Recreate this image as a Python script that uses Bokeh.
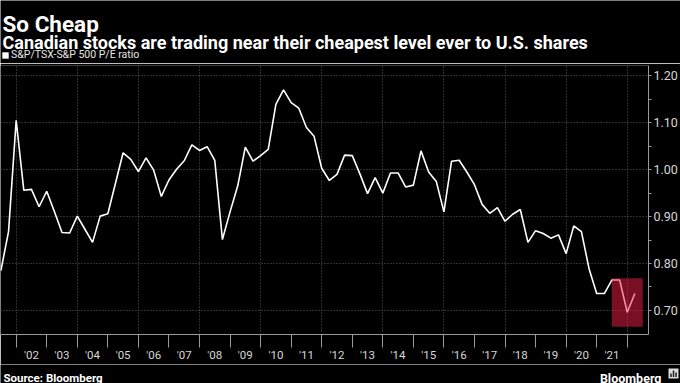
from bokeh.plotting import figure
from bokeh.layouts import column
from bokeh.models import (FixedTicker, PrintfTickFormatter, Label, BoxAnnotation,
                          Legend, LegendItem, Range1d, ColumnDataSource)
from bokeh.embed import file_html
from bokeh.resources import INLINE

# ---------------- data ----------------
FIRST_QUARTER = 2001.5   # first observation (decimal year)
QUARTER = 0.25
RATIO = [
    0.785, 0.868,
    1.105, 0.956, 0.958, 0.921,
    0.954, 0.911, 0.866, 0.865,
    0.901, 0.873, 0.845, 0.901,
    0.906, 0.971, 1.036, 1.022,
    0.996, 1.025, 0.999, 0.943,
    0.978, 1.001, 1.019, 1.053,
    1.041, 1.049, 1.020, 0.851,
    0.910, 0.965, 1.048, 1.018,
    1.030, 1.043, 1.139, 1.170,
    1.143, 1.131, 1.090, 1.071,
    1.003, 0.977, 0.990, 1.031,
    1.030, 0.991, 0.949, 0.983,
    0.950, 0.993, 0.993, 0.963,
    0.967, 1.040, 0.995, 0.975,
    0.910, 1.018, 1.020, 0.995,
    0.968, 0.926, 0.907, 0.919,
    0.890, 0.905, 0.915, 0.845,
    0.870, 0.864, 0.854, 0.861,
    0.821, 0.880, 0.868, 0.789,
    0.736, 0.736, 0.765, 0.765,
    0.696, 0.736,
]
LABEL_YEARS = list(range(2002, 2022))
YEAR_LABELS = ["'02", "'03", "'04", "'05", "'06", "'07", "'08", "'09", "'10", "'11",
               "'12", "'13", "'14", "'15", "'16", "'17", "'18", "'19", "'20", "'21"]
YEAR_BOUNDS = list(range(2002, 2023))
GRID_YEARS = list(range(2002, 2023, 2))
Y_TICKS = [0.70, 0.80, 0.90, 1.00, 1.10, 1.20]
Y_MINOR = [0.75, 0.85, 0.95, 1.05, 1.15]
HIGHLIGHT_START, HIGHLIGHT_END = 2021.5, 2022.5
HIGHLIGHT_LOW, HIGHLIGHT_HIGH = 0.666, 0.768

TITLE = "So Cheap"
SUBTITLE = "Canadian stocks are trading near their cheapest level ever to U.S. shares"
SERIES = "S&P/TSX-S&P 500 P/E ratio"
SOURCE = "Source: Bloomberg"
BRAND = "Bloomberg"

x = [FIRST_QUARTER + QUARTER * i for i in range(len(RATIO))]
src = ColumnDataSource(dict(x=x, y=RATIO))

FONT = "Roboto"
W = 680
HEAD_H, MAIN_H, FOOT_H = 63, 301, 19
BG = "black"
NAN = float("nan")


def blank(h):
    f = figure(width=W, height=h, output_backend="svg", toolbar_location=None,
               x_range=Range1d(0, W), y_range=Range1d(h, 0),
               x_axis_type=None, y_axis_type=None,
               background_fill_color=BG, border_fill_color=BG,
               outline_line_color=None, min_border=0, frame_align=False)
    f.xgrid.visible = False
    f.ygrid.visible = False
    return f


def text(f, s, x, y, size, bold=False, align="left", color="white"):
    f.add_layout(Label(x=x, y=y, text=s, text_font=FONT, text_font_size=size,
                       text_font_style="bold" if bold else "normal",
                       text_color=color, text_align=align,
                       text_baseline="alphabetic"))


# ---------------- header ----------------
head = blank(HEAD_H)
text(head, TITLE, 2, 23, "22.5px", bold=True)
text(head, SUBTITLE, 2, 42, "18px", bold=True)
sw = head.quad(left=[NAN], right=[NAN], top=[NAN], bottom=[NAN],
               fill_color="white", line_color=None)
head.add_layout(Legend(items=[LegendItem(label=SERIES, renderers=[sw])],
                       location=(1, 2), padding=0, margin=0, spacing=0,
                       glyph_width=8, glyph_height=8, label_standoff=2, label_height=11,
                       label_text_font=FONT, label_text_font_size="10.5px",
                       label_text_color="#e6e6e6", background_fill_alpha=0,
                       border_line_color=None))

# ---------------- main chart ----------------
p = figure(width=W, height=MAIN_H, output_backend="svg", toolbar_location=None,
           x_range=Range1d(2001.487, 2022.696), y_range=Range1d(0.6487, 1.222),
           y_axis_location="right", frame_align=False,
           background_fill_color=BG, border_fill_color=BG,
           outline_line_color=None,
           min_border_left=0, min_border_right=31,
           min_border_top=2, min_border_bottom=13)

p.xgrid.ticker = FixedTicker(ticks=GRID_YEARS)
p.ygrid.ticker = FixedTicker(ticks=Y_TICKS)
for g in (p.xgrid, p.ygrid):
    g.grid_line_color = "#5a5a5a"
    g.grid_line_dash = "1 2"
    g.grid_line_width = 1

ya = p.yaxis[0]
ya.ticker = FixedTicker(ticks=Y_TICKS, minor_ticks=Y_MINOR)
ya.formatter = PrintfTickFormatter(format="%.2f")
ya.axis_line_color = "#9a9a9a"
ya.major_tick_line_color = "#9a9a9a"
ya.minor_tick_line_color = "#9a9a9a"
ya.major_tick_out = 3
ya.major_tick_in = 0
ya.minor_tick_out = 3
ya.minor_tick_in = 0
ya.major_label_standoff = 2
ya.major_label_text_color = "#d6d6d6"
ya.major_label_text_font = FONT
ya.major_label_text_font_size = "12.5px"

xa = p.xaxis[0]
mid = [yr + 0.5 for yr in LABEL_YEARS]
xa.ticker = FixedTicker(ticks=mid, minor_ticks=YEAR_BOUNDS)
xa.major_label_overrides = {m: lab for m, lab in zip(mid, YEAR_LABELS)}
xa.axis_line_color = "#9a9a9a"
xa.major_tick_out = 0
xa.major_tick_in = 0
xa.minor_tick_out = 13
xa.minor_tick_in = 0
xa.minor_tick_line_color = "#9a9a9a"
xa.major_label_standoff = 0
xa.major_label_text_color = "#d6d6d6"
xa.major_label_text_font = FONT
xa.major_label_text_font_size = "11.5px"

p.line("x", "y", source=src, line_color="white", line_width=1.6)

p.add_layout(BoxAnnotation(left=HIGHLIGHT_START, right=HIGHLIGHT_END,
                           bottom=HIGHLIGHT_LOW, top=HIGHLIGHT_HIGH,
                           fill_color="#f01e46", fill_alpha=0.5,
                           line_color="#e8475f", line_dash="1 1", line_width=1))

# ---------------- footer ----------------
foot = blank(FOOT_H)
text(foot, SOURCE, 3, 13, "11.5px", bold=True)
text(foot, BRAND, 661, 13.5, "12.5px", bold=True, align="right")
# small brand icon
foot.rect(x=[673], y=[9], width=10, height=10, fill_color="#dcdcdc", line_color=None)
foot.vbar(x=[670.5, 673, 675.5], top=[9, 6, 8], bottom=[12.5, 12.5, 12.5], width=1.5,
          fill_color="#222222", line_color=None)

layout = column(head, p, foot, spacing=0)
open("out.html", "w").write(file_html(layout, INLINE))
